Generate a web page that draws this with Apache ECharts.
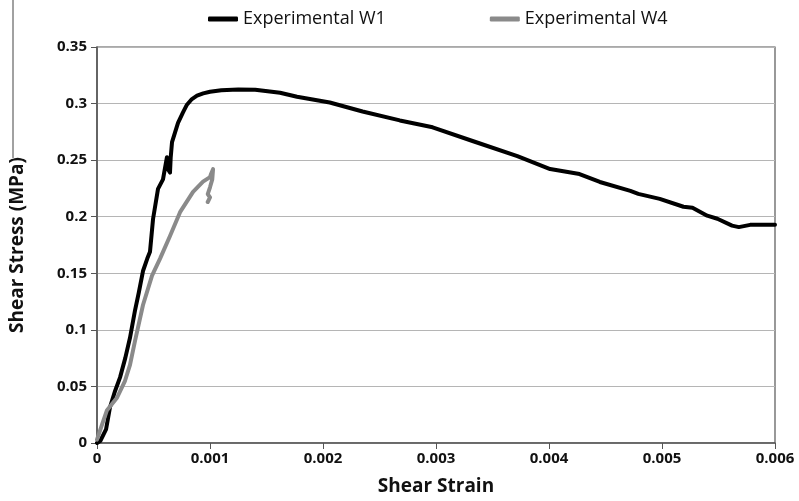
<!DOCTYPE html>
<html>
<head>
<meta charset="utf-8">
<script src="https://cdn.jsdelivr.net/npm/echarts@6/dist/echarts.min.js"></script>
<style>
  html, body { margin: 0; padding: 0; background: #fff; }
  #chart { width: 799px; height: 501px; }
</style>
</head>
<body>
<div id="chart"></div>
<script>
// strain / stress
const w1Strain = [0, 0.00003, 0.00008, 0.000115, 0.00016, 0.000204, 0.00025, 0.000292, 0.000336, 0.00037, 0.000407, 0.000445, 0.000469, 0.000496, 0.00054, 0.000584, 0.000619, 0.000628, 0.000646, 0.000652, 0.000664, 0.000717, 0.00076, 0.000796, 0.00084, 0.000885, 0.00094, 0.001, 0.0011, 0.00125, 0.0014, 0.00162, 0.00177, 0.00206, 0.00235, 0.00268, 0.00297, 0.00333, 0.00372, 0.00401, 0.00427, 0.00445, 0.00472, 0.00479, 0.00498, 0.00519, 0.00527, 0.0054, 0.00549, 0.00562, 0.00568, 0.00578, 0.006]
const w1Stress = [0, 0.002, 0.012, 0.0316, 0.046, 0.058, 0.075, 0.093, 0.117, 0.133, 0.152, 0.163, 0.169, 0.198, 0.2246, 0.233, 0.2526, 0.242, 0.239, 0.252, 0.266, 0.283, 0.292, 0.299, 0.304, 0.307, 0.309, 0.3105, 0.3118, 0.3125, 0.3122, 0.3096, 0.306, 0.3009, 0.293, 0.2851, 0.279, 0.2667, 0.2535, 0.2421, 0.2377, 0.2307, 0.2228, 0.2202, 0.2158, 0.2088, 0.2079, 0.2009, 0.1982, 0.1921, 0.1908, 0.1928, 0.1928]

const w4Strain = [0, 0.00004, 0.0000885, 0.000177, 0.000248, 0.000292, 0.000336, 0.000407, 0.000487, 0.000558, 0.000646, 0.000735, 0.00085, 0.000938, 0.001, 0.00101, 0.001027, 0.00102, 0.001, 0.00098, 0.001, 0.00098]
const w4Stress = [0.003, 0.015, 0.029, 0.040, 0.055, 0.069, 0.090, 0.122, 0.148, 0.163, 0.183, 0.204, 0.222, 0.231, 0.235, 0.238, 0.242, 0.233, 0.226, 0.220, 0.217, 0.213]

const xTicks = { min: 0, max: 0.006, step: 0.001 }
const yTicks = { min: 0, max: 0.35, step: 0.05 }

const chart = echarts.init(document.getElementById('chart'))
const font = 'Open Sans'
const pairs = (xs, ys) => xs.map((x, i) => [x, ys[i]])

chart.setOption({
  animation: false,
  textStyle: { fontFamily: font },
  legend: {
    top: 5,
    left: 203,
    itemGap: 104,
    itemWidth: 30,
    itemHeight: 5,
    icon: 'roundRect',
    textStyle: { fontSize: 18, color: '#111', fontFamily: font },
    data: ['Experimental W1', 'Experimental W4']
  },
  grid: {
    left: 97, right: 24, top: 47, bottom: 55,
    show: true, borderColor: '#555', borderWidth: 1.2
  },
  graphic: [{
    type: 'line',
    shape: { x1: 13, y1: 0, x2: 13, y2: 158 },
    style: { stroke: '#444', lineWidth: 1 }
  }],
  xAxis: {
    type: 'value',
    min: xTicks.min, max: xTicks.max, interval: xTicks.step,
    name: 'Shear Strain',
    nameLocation: 'middle',
    nameGap: 34,
    nameTextStyle: { fontSize: 19, fontWeight: 'bold', color: '#111' },
    axisLine: { lineStyle: { color: '#555', width: 1.5 } },
    axisTick: { show: true, inside: false, length: 6, lineStyle: { color: '#555' } },
    axisLabel: {
      fontSize: 15, fontWeight: 'bold', color: '#111', margin: 8,
      formatter: v => v === 0 ? '0' : v.toFixed(3)
    },
    splitLine: { show: false }
  },
  yAxis: {
    type: 'value',
    min: yTicks.min, max: yTicks.max, interval: yTicks.step,
    name: 'Shear Stress (MPa)',
    nameLocation: 'middle',
    nameGap: 70,
    nameTextStyle: { fontSize: 19, fontWeight: 'bold', color: '#111' },
    axisLine: { show: true, lineStyle: { color: '#555', width: 1.5 } },
    axisTick: { show: true, length: 6, lineStyle: { color: '#555' } },
    axisLabel: {
      fontSize: 15, fontWeight: 'bold', color: '#111', margin: 10,
      formatter: v => String(parseFloat(v.toFixed(2)))
    },
    splitLine: { show: true, lineStyle: { color: '#b5b5b5', width: 1 } }
  },
  series: [
    {
      name: 'Experimental W1',
      type: 'line',
      showSymbol: false,
      itemStyle: { color: '#000' },
      lineStyle: { color: '#000', width: 4, cap: 'round', join: 'round' },
      data: pairs(w1Strain, w1Stress)
    },
    {
      name: 'Experimental W4',
      type: 'line',
      showSymbol: false,
      itemStyle: { color: '#8a8a8a' },
      lineStyle: { color: '#8a8a8a', width: 4, cap: 'round', join: 'round' },
      data: pairs(w4Strain, w4Stress)
    }
  ]
})
</script>
</body>
</html>
